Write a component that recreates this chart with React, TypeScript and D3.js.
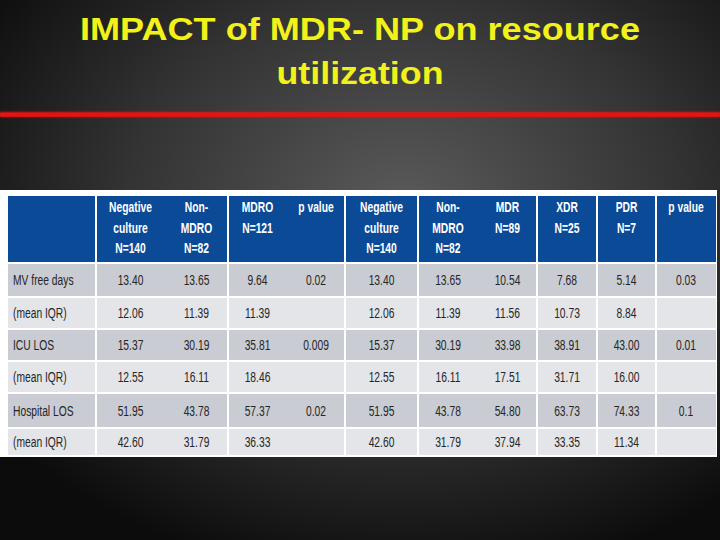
import React from "react";
import * as d3 from "d3";

const titleLines = ["IMPACT of MDR- NP on resource", "utilization"];

const headerLabels: string[][] = [
  ["Negative", "culture", "N=140"],
  ["Non-", "MDRO", "N=82"],
  ["MDRO", "N=121"],
  ["p value"],
  ["Negative", "culture", "N=140"],
  ["Non-", "MDRO", "N=82"],
  ["MDR", "N=89"],
  ["XDR", "N=25"],
  ["PDR", "N=7"],
  ["p value"],
];

const rowLabels = ["MV free days", "(mean IQR)", "ICU LOS", "(mean IQR)", "Hospital LOS", "(mean IQR)"];

const negativeCulture = [13.4, 12.06, 15.37, 12.55, 51.95, 42.6];
const nonMdro = [13.65, 11.39, 30.19, 16.11, 43.78, 31.79];
const mdro = [9.64, 11.39, 35.81, 18.46, 57.37, 36.33];
const pValueMdro = ["0.02", "", "0.009", "", "0.02", ""];
const mdr = [10.54, 11.56, 33.98, 17.51, 54.8, 37.94];
const xdr = [7.68, 10.73, 38.91, 31.71, 63.73, 33.35];
const pdr = [5.14, 8.84, 43.0, 16.0, 74.33, 11.34];
const pValueSub = ["0.03", "", "0.01", "", "0.1", ""];

const fmt = d3.format(".2f");
const columns: string[][] = [
  negativeCulture.map(fmt),
  nonMdro.map(fmt),
  mdro.map(fmt),
  pValueMdro,
  negativeCulture.map(fmt),
  nonMdro.map(fmt),
  mdr.map(fmt),
  xdr.map(fmt),
  pdr.map(fmt),
  pValueSub,
];

// layout
const W = 720;
const H = 540;
const colEdges = [96, 165, 228, 287, 345, 418, 478, 537, 597, 656, 716];
const ruledEdges = [96, 228, 345, 418, 537, 597, 656];
const rowEdges = [264, 298, 330, 362, 394, 429, 457];
const FONT = "'Liberation Sans', Arial, sans-serif";
const SX = 0.71;

function NarrowText(props: {
  x: number;
  y: number;
  text: string;
  anchor?: string;
  fill: string;
  bold?: boolean;
  size?: number;
}) {
  const { x, y, text, anchor = "start", fill, bold = false, size = 14.5 } = props;
  return (
    <g transform={`translate(${x},${y}) scale(${SX},1)`}>
      <text
        x={0}
        y={0}
        textAnchor={anchor}
        fill={fill}
        fontFamily={FONT}
        fontWeight={bold ? "bold" : "normal"}
        fontSize={size}
      >
        {text}
      </text>
    </g>
  );
}

export default function App() {
  const colIdx = d3.range(columns.length);
  const x = (i: number) => (colEdges[i] + colEdges[i + 1]) / 2;
  const rowScale = d3
    .scaleOrdinal<number, number>()
    .domain(d3.range(rowLabels.length))
    .range(rowEdges.slice(0, -1));
  const rowH = (i: number) => rowEdges[i + 1] - rowEdges[i];

  return (
    <svg width={W} height={H} style={{ position: "absolute", left: 0, top: 0, display: "block" }}>
      <defs>
        <radialGradient id="bg" cx="56%" cy="38%" r="70%">
          <stop offset="0%" stopColor="#5a5a5a" />
          <stop offset="55%" stopColor="#333333" />
          <stop offset="100%" stopColor="#0c0c0c" />
        </radialGradient>
        <filter id="glow" x="-5%" y="-200%" width="110%" height="500%">
          <feGaussianBlur stdDeviation="1.2" />
        </filter>
      </defs>
      <rect x={0} y={0} width={W} height={H} fill="url(#bg)" />

      {titleLines.map((t, i) => (
        <text
          key={i}
          x={360}
          y={i === 0 ? 40 : 84}
          textAnchor="middle"
          fill="#f2f21a"
          fontFamily="'Liberation Sans', Arial, sans-serif"
          fontWeight="bold"
          fontSize={31}
          textLength={i === 0 ? 560 : 167}
          lengthAdjust="spacingAndGlyphs"
        >
          {t}
        </text>
      ))}

      <rect x={0} y={112} width={W} height={5} fill="#ff1010" filter="url(#glow)" />
      <rect x={0} y={113} width={W} height={3.5} fill="#e81212" />

      {/* table */}
      <rect x={0} y={190} width={717} height={267} fill="#ffffff" />
      <rect x={8} y={196} width={708} height={66} fill="#0b4a96" />
      {rowLabels.map((_, i) => (
        <rect
          key={i}
          x={8}
          y={rowScale(i)}
          width={708}
          height={rowH(i) - 2}
          fill={i % 2 === 0 ? "#c9ccd2" : "#e3e5e9"}
        />
      ))}
      {ruledEdges.map((e) => (
        <line key={e} x1={e} x2={e} y1={196} y2={457} stroke="#ffffff" strokeWidth={2} />
      ))}

      {colIdx.map((c) =>
        headerLabels[c].map((t, j) => (
          <NarrowText
            key={`h${c}-${j}`}
            x={x(c)}
            y={212 + j * 20.5}
            text={t}
            anchor="middle"
            fill="#ffffff"
            bold
            size={14.5}
          />
        ))
      )}

      {rowLabels.map((t, i) => (
        <NarrowText
          key={`r${i}`}
          x={13}
          y={rowScale(i) + (rowH(i) - 2) / 2 + 5}
          text={t}
          fill="#262626"
        />
      ))}

      {colIdx.map((c) =>
        columns[c].map((v, i) => (
          <NarrowText
            key={`v${c}-${i}`}
            x={x(c)}
            y={rowScale(i) + (rowH(i) - 2) / 2 + 5}
            text={v}
            anchor="middle"
            fill="#262626"
          />
        ))
      )}
    </svg>
  );
}
